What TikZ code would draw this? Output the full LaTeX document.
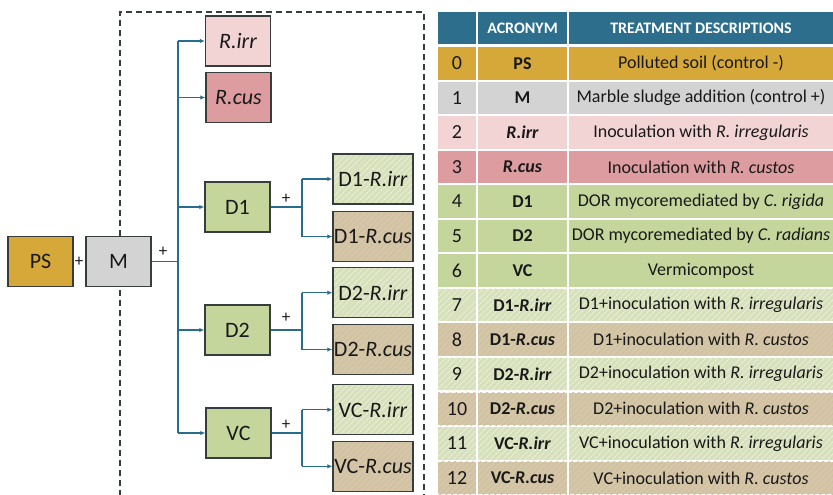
\documentclass[tikz,border=0pt]{standalone}
\usepackage{fontspec}
\setmainfont{Carlito}
\usetikzlibrary{arrows.meta,patterns.meta}
\definecolor{hdr}{RGB}{44,110,140}
\definecolor{gold}{RGB}{214,168,58}
\definecolor{grayc}{RGB}{211,211,211}
\definecolor{pinkl}{RGB}{243,212,212}
\definecolor{pinkd}{RGB}{221,156,160}
\definecolor{greenc}{RGB}{196,214,156}
\definecolor{hgbase}{RGB}{214,225,188}
\definecolor{hgline}{RGB}{234,237,216}
\definecolor{htbase}{RGB}{208,201,164}
\definecolor{htline}{RGB}{218,184,170}
\definecolor{conn}{RGB}{40,110,140}
\definecolor{bord}{RGB}{55,60,60}
\definecolor{txt}{RGB}{25,25,25}
\tikzset{
  box/.style={draw=bord, line width=1.4pt, minimum width=65pt, minimum height=50pt, inner sep=0pt, text=txt, font=\fontsize{22}{24}\selectfont},
  sbox/.style={box, minimum width=80pt},
  hatchG/.style={preaction={fill=hgbase}, preaction={pattern={Lines[angle=45,distance=4pt,line width=1.1pt]}, pattern color=hgline}},
  hatchT/.style={preaction={fill=htbase}, preaction={pattern={Lines[angle=45,distance=4pt,line width=1.3pt]}, pattern color=htline}},
  fgold/.style={fill=gold}, fgray/.style={fill=grayc}, fpinkl/.style={fill=pinkl},
  fpinkd/.style={fill=pinkd}, fgreen/.style={fill=greenc},
  link/.style={draw=conn, line width=1.2pt},
  arr/.style={link, -{Latex[length=5pt,width=4.5pt]}},
  plus/.style={inner sep=0pt, text=txt, font=\fontsize{17}{17}\selectfont},
  cell/.style={inner sep=0pt, minimum height=32.5pt, text=txt, font=\fontsize{18}{20}\selectfont},
  hcell/.style={cell, fill=hdr, text=white, minimum height=32pt, font=\fontsize{16}{18}\selectfont\bfseries},
}
\begin{document}
\begin{tikzpicture}[x=1pt,y=-1pt]
\useasboundingbox (0,0) rectangle (833,495);
% dashed frame
\draw[bord, line width=1.3pt, dash pattern=on 6pt off 4pt] (120,496) -- (120,12) -- (424,12) -- (424,496);
% boxes
\node[box, fgold] (PS) at (40.5,261.5) {PS};
\node[box, fgray] (M) at (118.5,261.5) {M};
\node[box, fpinkl] (Rirr) at (238,41) {\itshape R.irr};
\node[box, fpinkd] (Rcus) at (238.5,97.5) {\itshape R.cus};
\node[box, fgreen] (D1) at (237.5,207) {D1};
\node[box, fgreen] (D2) at (237.5,330) {D2};
\node[box, fgreen] (VC) at (238.5,433) {VC};
\node[sbox, hatchG] (D1irr) at (373,179) {D1-\textit{R.irr}};
\node[sbox, hatchT] (D1cus) at (373,236.5) {D1-\textit{R.cus}};
\node[sbox, hatchG] (D2irr) at (373,292.7) {D2-\textit{R.irr}};
\node[sbox, hatchT] (D2cus) at (373,349.5) {D2-\textit{R.cus}};
\node[sbox, hatchG] (VCirr) at (373,409.7) {VC-\textit{R.irr}};
\node[sbox, hatchT] (VCcus) at (373,466.3) {VC-\textit{R.cus}};
% plus signs
\node[plus] (p0) at (79,262) {+};
\node[plus] (p1) at (163,252) {+};
\node[plus] (p2) at (286,199) {+};
\node[plus] (p3) at (286,318) {+};
\node[plus] (p4) at (286,425) {+};
% connectors
\coordinate (sp) at (178,0);
\coordinate (b1) at (302,0);
\draw[link] (M.east) -- (sp|-M.east);
\draw[link] (sp|-Rirr.west) -- (sp|-VC.west);
\foreach \n in {Rirr,Rcus,D1,D2,VC}{
  \draw[arr] (sp|-\n.west) -- (\n.west);
}
\foreach \p/\a/\b in {D1/D1irr/D1cus, D2/D2irr/D2cus, VC/VCirr/VCcus}{
  \draw[link] (\p.east) -- (b1|-\p.east);
  \draw[link] (b1|-\a.west) -- (b1|-\b.west);
  \draw[arr] (b1|-\a.west) -- (\a.west);
  \draw[arr] (b1|-\b.west) -- (\b.west);
}
% table header
\node[hcell, minimum width=38pt] (h0) at (457,28) {};
\node[hcell, minimum width=89pt] (h1) at (522.5,28) {ACRONYM};
\node[hcell, minimum width=264pt] (h2) at (701,28) {TREATMENT DESCRIPTIONS};
% table rows
\foreach \i/\acr/\desc/\sty in {
  0/PS/Polluted soil (control -)/fgold,
  1/M/Marble sludge addition (control +)/fgray,
  2/\textit{R.irr}/Inoculation with \textit{R. irregularis}/fpinkl,
  3/\textit{R.cus}/Inoculation with \textit{R. custos}/fpinkd,
  4/D1/DOR mycoremediated by \textit{C. rigida}/fgreen,
  5/D2/DOR mycoremediated by \textit{C. radians}/fgreen,
  6/VC/Vermicompost/fgreen,
  7/D1-\textit{R.irr}/D1+inoculation with \textit{R. irregularis}/hatchG,
  8/D1-\textit{R.cus}/D1+inoculation with \textit{R. custos}/hatchT,
  9/D2-\textit{R.irr}/D2+inoculation with \textit{R. irregularis}/hatchG,
  10/D2-\textit{R.cus}/D2+inoculation with \textit{R. custos}/hatchT,
  11/VC-\textit{R.irr}/VC+inoculation with \textit{R. irregularis}/hatchG,
  12/VC-\textit{R.cus}/VC+inoculation with \textit{R. custos}/hatchT}{
  \pgfmathsetmacro{\yy}{46+\i*34.55+17.27}
  \node[cell, \sty, minimum width=38pt, font=\fontsize{20}{22}\selectfont] (n\i) at (457,\yy) {\i};
  \node[cell, \sty, minimum width=89pt, font=\fontsize{18}{20}\selectfont\bfseries] (a\i) at (522.5,\yy) {\acr};
  \node[cell, \sty, minimum width=264pt] (d\i) at (701,\yy) {\desc};
}
\end{tikzpicture}
\end{document}
